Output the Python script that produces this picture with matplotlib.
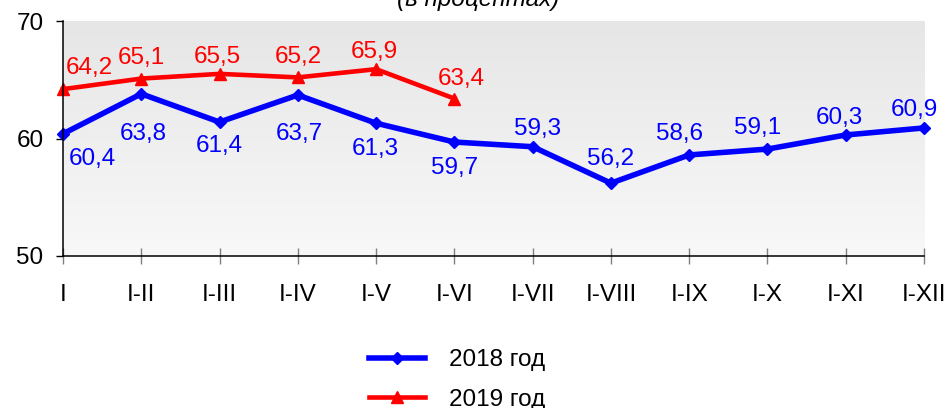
import matplotlib
matplotlib.use("Agg")
import matplotlib.pyplot as plt
import numpy as np
from matplotlib.colors import LinearSegmentedColormap

plt.rcParams['font.family'] = ['Liberation Sans', 'DejaVu Sans']

categories = ["I", "I-II", "I-III", "I-IV", "I-V", "I-VI", "I-VII", "I-VIII", "I-IX", "I-X", "I-XI", "I-XII"]
values_2018 = [60.4, 63.8, 61.4, 63.7, 61.3, 59.7, 59.3, 56.2, 58.6, 59.1, 60.3, 60.9]
values_2019 = [64.2, 65.1, 65.5, 65.2, 65.9, 63.4]
label_2018 = "2018 год"
label_2019 = "2019 год"
title = "(в процентах)"

# label offsets (pixels, digit centre relative to the point)
offs_2018 = [(29, -22), (2, -37), (0, -21.5), (1, -36), (-1, -23), (0, -23),
             (5, 20.5), (0, 27), (-10, 23.5), (-10, 24), (-6, 20), (-10, 21)]
offs_2019 = [(26.5, 24), (0, 23), (-2, 20), (0, 23.5), (-2, 20), (7, 22)]

fig = plt.figure(figsize=(9.46, 4.08), dpi=100)
ax = fig.add_axes([63/946, 1-256/408, (924-63)/946, (256-21)/408])

x = np.arange(len(categories))
x19 = np.arange(len(values_2019))

# gradient background
cmap = LinearSegmentedColormap.from_list("g", ["#f8f8f8", "#e6e6e6"])
grad = np.linspace(0, 1, 256).reshape(-1, 1)
ax.imshow(grad, cmap=cmap, aspect='auto', extent=[0, 11, 50, 70], origin='lower', zorder=0)

ax.plot(x, values_2018, color='#0000ff', lw=4, marker='D', markersize=6, label=label_2018, zorder=3, clip_on=False)
ax.plot(x19, values_2019, color='#ff0000', lw=3.3, marker='^', markersize=8.5, label=label_2019, zorder=3, clip_on=False)

ax.set_xlim(0, 11)
ax.set_ylim(50, 70)
ax.set_yticks([50, 60, 70])
ax.set_xticks(x)
ax.set_xticklabels(categories)

def fmt(v):
    return f"{v:.1f}".replace('.', ',')

fs = 17.5
half_digit = 0.716 * fs * 100 / 72 / 2  # px
px2pt = 72 / 100

for xs, vals, offs, col in [(x, values_2018, offs_2018, '#0000ff'), (x19, values_2019, offs_2019, '#ff0000')]:
    for i, v in enumerate(vals):
        dx, dy = offs[i]
        ax.annotate(fmt(v), (xs[i], v), xytext=(dx * px2pt, (dy - half_digit) * px2pt),
                    textcoords='offset points', ha='center', va='baseline',
                    color=col, fontsize=fs, zorder=4, annotation_clip=False)

for s in ['top', 'right']:
    ax.spines[s].set_visible(False)
for s in ['left', 'bottom']:
    ax.spines[s].set_linewidth(1.1)
    ax.spines[s].set_zorder(5)

ax.tick_params(axis='y', direction='out', length=5, width=1, labelsize=17.5, pad=9)
ax.tick_params(axis='x', direction='inout', length=12, width=1, color='#808080', labelsize=17.5, pad=14)

fig.text(478/946, 1-6/408, title, ha='center', va='baseline', fontsize=17.5, style='italic')

fig.legend(loc='center', bbox_to_anchor=(457/946, 1-380/408), frameon=False,
           fontsize=17.5, handlelength=2.3, handletextpad=1.0, labelspacing=0.7)

fig.savefig("out.png", dpi=100)
